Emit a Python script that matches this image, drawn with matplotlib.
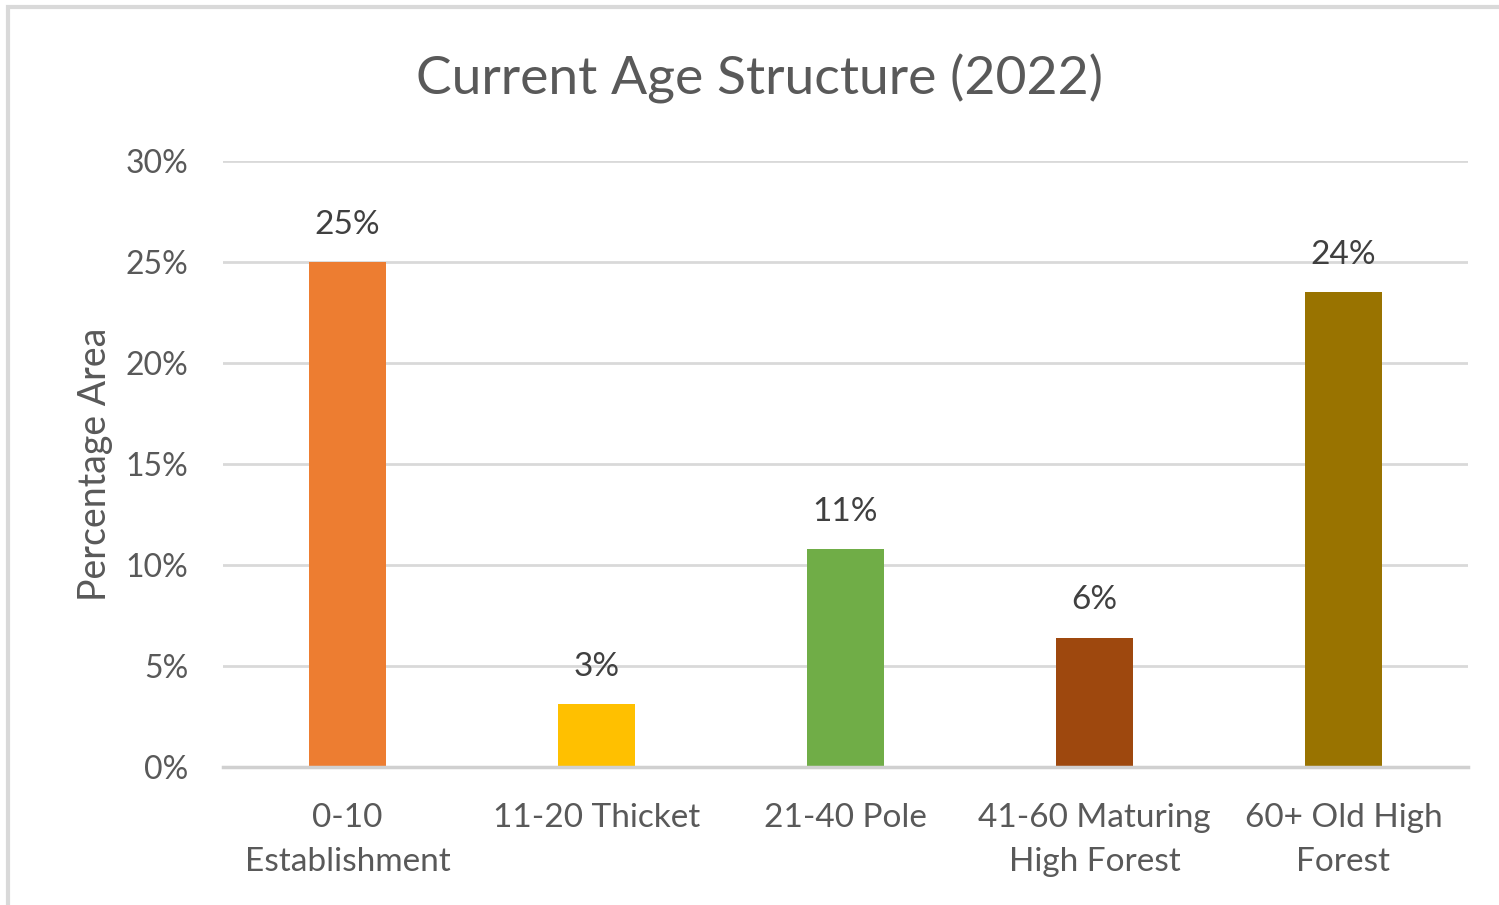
import matplotlib
matplotlib.use("Agg")
import matplotlib.pyplot as plt
from matplotlib.patches import Rectangle
from matplotlib.ticker import PercentFormatter

categories = ["0-10\nEstablishment", "11-20 Thicket", "21-40 Pole",
              "41-60 Maturing\nHigh Forest", "60+ Old High\nForest"]
values = [25.0, 3.1, 10.8, 6.4, 23.5]
labels = ["25%", "3%", "11%", "6%", "24%"]
colors = ["#ED7D31", "#FFC000", "#70AD47", "#9E480E", "#997300"]

TEXT = "#595959"
plt.rcParams["font.family"] = ["Lato", "DejaVu Sans"]

fig = plt.figure(figsize=(14.99, 9.05), dpi=100)
ax = fig.add_axes([0.1488, 0.1525, 0.8305, 0.6696])

x = range(len(categories))
ax.bar(x, values, width=0.31, color=colors, zorder=3)
for xi, v, lab in zip(x, values, labels):
    ax.annotate(lab, (xi, v), xytext=(0, 16), textcoords="offset points",
                ha="center", va="bottom", fontsize=24, color="#404040")

ax.set_xlim(-0.5, 4.5)
ax.set_ylim(0, 30)
ax.set_yticks(range(0, 31, 5))
ax.yaxis.set_major_formatter(PercentFormatter(decimals=0))
ax.set_xticks(list(x))
ax.set_xticklabels(categories, linespacing=1.6)
ax.tick_params(axis="both", length=0, labelsize=23, labelcolor=TEXT)
ax.tick_params(axis="x", pad=26, labelsize=24)
ax.tick_params(axis="y", pad=25)
ax.grid(axis="y", color="#D9D9D9", linewidth=2, zorder=0)
for s in ["top", "right", "left"]:
    ax.spines[s].set_visible(False)
ax.spines["bottom"].set_color("#D0D0D0")
ax.spines["bottom"].set_linewidth(2.5)
ax.spines["bottom"].set_zorder(4)

ax.set_ylabel("Percentage Area", fontsize=27, color=TEXT, labelpad=9)
fig.text(0.507, 0.913, "Current Age Structure (2022)", ha="center",
         va="center", fontsize=38.5, color=TEXT)

fig.patches.append(Rectangle((8 / 1499, -0.1), 1.2, 1.1 - 7 / 905,
                             transform=fig.transFigure, fill=False,
                             edgecolor="#D9D9D9", linewidth=3))

fig.savefig("out.png", dpi=100, facecolor="white")
